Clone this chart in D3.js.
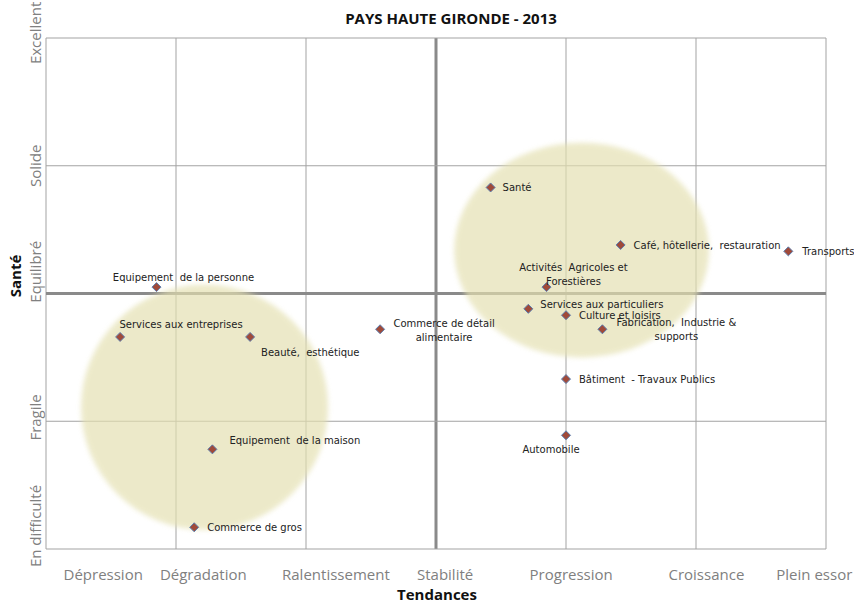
<!DOCTYPE html>
<html>
<head>
<meta charset="utf-8">
<script src="https://cdn.jsdelivr.net/npm/d3@7"></script>
<style>
  body { margin: 0; background: #fff; }
  .axislab { font-family: "Open Sans", sans-serif; font-size: 15px; fill: #808080; }
  .bold { font-family: "Open Sans", sans-serif; font-weight: bold; font-size: 15px; fill: #111; }
  .ptlab { font-family: "DejaVu Sans", sans-serif; font-size: 10px; fill: #222; white-space: pre; }
</style>
</head>
<body>
<script>
// ---------------- Data ----------------
var sectors = ["Santé", "Café, hôtellerie,  restauration", "Transports", "Activités  Agricoles et|Forestières",
  "Equipement  de la personne", "Services aux particuliers", "Culture et loisirs", "Fabrication,  Industrie &|supports",
  "Commerce de détail|alimentaire", "Services aux entreprises", "Beauté,  esthétique", "Bâtiment  - Travaux Publics",
  "Automobile", "Equipement  de la maison", "Commerce de gros"];
var tendance = [0.42, 1.42, 2.71, 0.85, -2.15, 0.71, 1.0, 1.28, -0.43, -2.43, -1.43, 1.0, 1.0, -1.72, -1.86];
var sante = [0.83, 0.38, 0.33, 0.05, 0.05, -0.12, -0.17, -0.28, -0.28, -0.34, -0.34, -0.67, -1.11, -1.22, -1.83];

var xTickLabels = ["Dépression", "Dégradation", "Ralentissement", "Stabilité", "Progression", "Croissance", "Plein essor"];
var xTickPos = [-2.56, -1.79, -0.77, 0.07, 1.04, 2.08, 2.91];
var yTickLabels = ["Excellent", "Solide", "Equilibré", "Fragile", "En difficulté"];
var yTickPos = [2.04, 1.0, 0.17, -0.97, -1.82];

var xGrid = [-3, -2, -1, 0, 1, 2, 3];
var yGrid = [2, 1, 0, -1, -2];

// highlighted groups (centre x, centre y, radius x, radius y)
var groupCx = [-1.78, 1.12];
var groupCy = [-0.89, 0.34];
var groupRx = [0.95, 0.98];
var groupRy = [0.96, 0.84];

// label placement relative to the marker (pixels)
var labDx = [12, 13, 14, 27, 27, 12, 13, 74, 64, 61, 11, 13, -15, 17, 13];
var labDy = [4, 4, 4, -16, -6, -1, 4, -3, -2, -9, 19, 4, 18, -5, 4];
var labAnchor = ["start", "start", "start", "middle", "middle", "start", "start", "middle", "middle", "middle",
  "start", "start", "middle", "start", "start"];

// ---------------- Chart ----------------
var W = 854, H = 604;
var svg = d3.select("body").append("svg").attr("width", W).attr("height", H);

var x = d3.scaleLinear().domain([-3, 3]).range([46, 826]);
var y = d3.scaleLinear().domain([-2, 2]).range([549, 38]);

var defs = svg.append("defs");
defs.append("filter").attr("id", "soft")
  .append("feGaussianBlur").attr("stdDeviation", 2.5);

// grid
svg.append("g").selectAll("line").data(xGrid).enter().append("line")
  .attr("x1", d => x(d)).attr("x2", d => x(d))
  .attr("y1", y(2)).attr("y2", y(-2))
  .attr("stroke", d => d === 0 ? "#8a8a8a" : "#a3a3a3")
  .attr("stroke-width", d => d === 0 ? 3 : 1);
svg.append("g").selectAll("line").data(yGrid).enter().append("line")
  .attr("y1", d => y(d)).attr("y2", d => y(d))
  .attr("x1", x(-3)).attr("x2", x(3))
  .attr("stroke", d => d === 0 ? "#8a8a8a" : "#a3a3a3")
  .attr("stroke-width", d => d === 0 ? 3 : 1);

// group ellipses
svg.append("g").selectAll("ellipse").data(groupCx).enter().append("ellipse")
  .attr("cx", d => x(d))
  .attr("cy", (d, i) => y(groupCy[i]))
  .attr("rx", (d, i) => x(groupRx[i]) - x(0))
  .attr("ry", (d, i) => y(0) - y(groupRy[i]))
  .attr("fill", "#e4e0b0")
  .attr("opacity", 0.68)
  .attr("filter", "url(#soft)");

// points
var pts = svg.append("g").selectAll("g").data(sectors).enter().append("g")
  .attr("transform", (d, i) => "translate(" + x(tendance[i]) + "," + y(sante[i]) + ")");
pts.append("path")
  .attr("d", "M0,-4.5L4.5,0L0,4.5L-4.5,0Z")
  .attr("fill", "#a04a3a")
  .attr("stroke", "#5b7fb0")
  .attr("stroke-width", 1);
pts.each(function(d, i) {
  var lines = d.split("|");
  var t = d3.select(this).append("text").attr("class", "ptlab")
    .attr("text-anchor", labAnchor[i]);
  lines.forEach(function(l, k) {
    t.append("tspan").attr("x", labDx[i]).attr("y", labDy[i] + k * 14).text(l);
  });
});

// axis labels
svg.append("g").selectAll("text").data(xTickLabels).enter().append("text")
  .attr("class", "axislab")
  .attr("x", (d, i) => x(xTickPos[i]))
  .attr("y", 580)
  .attr("text-anchor", "middle")
  .text(d => d);
svg.append("g").selectAll("text").data(yTickLabels).enter().append("text")
  .attr("class", "axislab")
  .attr("transform", (d, i) => "translate(41," + y(yTickPos[i]) + ") rotate(-90)")
  .attr("text-anchor", "middle")
  .text(d => d);

// titles
svg.append("text").attr("class", "bold").attr("x", 451).attr("y", 24).attr("text-anchor", "middle")
  .text("PAYS HAUTE GIRONDE - 2013");
svg.append("text").attr("class", "bold").attr("x", 437).attr("y", 600).attr("text-anchor", "middle")
  .text("Tendances");
svg.append("text").attr("class", "bold").attr("transform", "translate(21,276) rotate(-90)").attr("text-anchor", "middle")
  .text("Santé");
</script>
</body>
</html>
